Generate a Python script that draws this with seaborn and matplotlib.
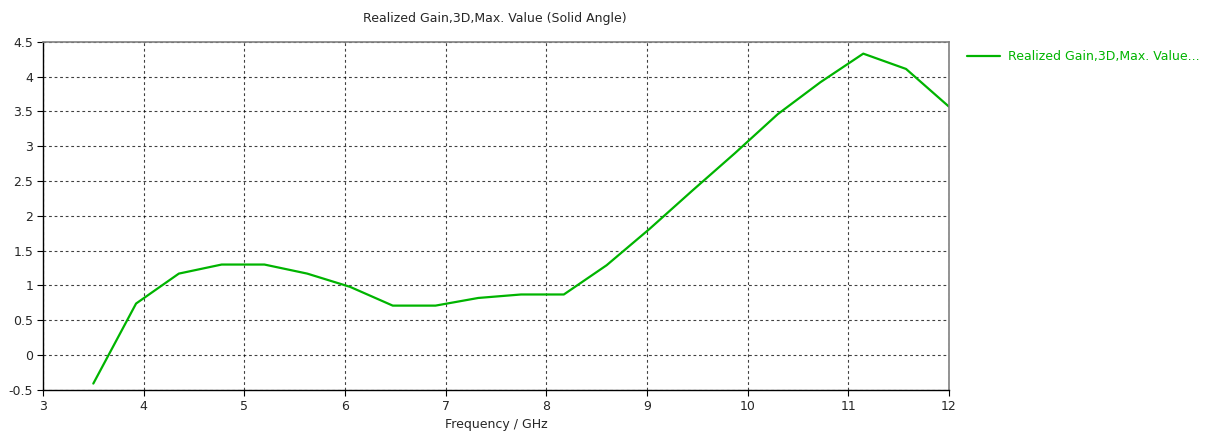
import pandas as pd
import matplotlib
matplotlib.use("Agg")
import matplotlib.pyplot as plt
import seaborn as sns

#Data:
freq_ghz = [3.5, 3.925, 4.35, 4.775, 5.2, 5.625, 6.05, 6.475, 6.9, 7.325, 7.75,
            8.175, 8.6, 9.025, 9.45, 9.875, 10.3, 10.725, 11.15, 11.575, 12.0]
gain = [-0.41, 0.74, 1.17, 1.30, 1.30, 1.17, 0.98, 0.71, 0.71, 0.82, 0.87,
        0.87, 1.29, 1.81, 2.36, 2.90, 3.46, 3.92, 4.33, 4.11, 3.57]
series_name = "Realized Gain,3D,Max. Value..."
title = "Realized Gain,3D,Max. Value (Solid Angle)"
x_ticks = [3, 4, 5, 6, 7, 8, 9, 10, 11, 12]
y_ticks = [-0.5, 0, 0.5, 1, 1.5, 2, 2.5, 3, 3.5, 4, 4.5]

df = pd.DataFrame({"Frequency": freq_ghz, "Gain": gain})

sns.set_style("white")
plt.rcParams['font.family'] = ['DejaVu Sans']

green = '#00b400'

fig = plt.figure(figsize=(12.11, 4.40), dpi=100)
ax = fig.add_axes([0.0355, 0.114, 0.748, 0.791])

sns.lineplot(data=df, x="Frequency", y="Gain", color=green, linewidth=1.6, ax=ax, label=series_name)

ax.set_xlim(3, 12)
ax.set_ylim(-0.5, 4.5)
ax.set_xticks(x_ticks)
ax.set_yticks(y_ticks)
ax.set_xticklabels([str(t) for t in x_ticks])
ax.set_yticklabels(['{:g}'.format(t) for t in y_ticks])
ax.tick_params(axis='both', labelsize=9, length=4, width=0.8, color='black', direction='out', pad=3)
ax.xaxis.set_ticks_position('bottom')
ax.yaxis.set_ticks_position('left')

ax.grid(True, color='black', linestyle=(0, (2.5, 2.5)), linewidth=0.8, alpha=0.75)
ax.set_axisbelow(True)

for s in ['left', 'bottom']:
    ax.spines[s].set_color('black')
    ax.spines[s].set_linewidth(1.0)
for s in ['top', 'right']:
    ax.spines[s].set_color('#808080')
    ax.spines[s].set_linewidth(1.2)

ax.set_xlabel("Frequency / GHz", fontsize=9, labelpad=4)
ax.set_ylabel("")
fig.text(0.409, 0.957, title, fontsize=9, ha='center', va='center')

leg = ax.legend(loc='upper left', bbox_to_anchor=(1.014, 0.99), frameon=False,
                fontsize=9, handlelength=2.7, handletextpad=0.6, borderaxespad=0)
for t in leg.get_texts():
    t.set_color(green)

fig.savefig("out.png", dpi=100)
